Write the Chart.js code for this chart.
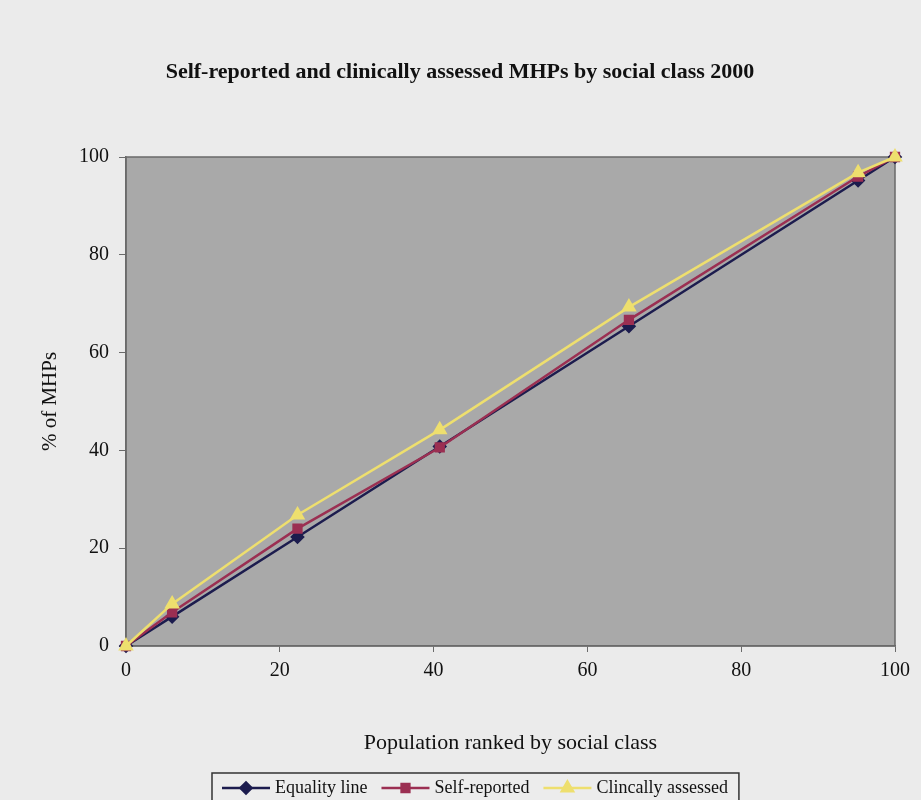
<!DOCTYPE html>
<html><head><meta charset="utf-8">
<script src="https://cdn.jsdelivr.net/npm/chart.js@4"></script>
<style>
html,body{margin:0;padding:0;background:#ebebeb;}
#wrap{position:relative;width:921px;height:800px;}
</style></head>
<body><div id="wrap"><canvas id="c" width="921" height="800"></canvas></div>
<script>
const chartTitle = "Self-reported and clinically assessed MHPs by social class 2000";
const xTitle = "Population ranked by social class";
const yTitle = "% of MHPs";
const seriesNames = ["Equality line", "Self-reported", "Clincally assessed"];
const populationX = [0, 6, 22.3, 40.8, 65.4, 95.2, 100];
const equalityY = [0, 6, 22.3, 40.8, 65.4, 95.2, 100];
const selfReportedY = [0, 6.9, 24.0, 40.6, 66.7, 96.0, 100];
const clinicalY = [0, 8.6, 26.8, 44.2, 69.3, 96.8, 100];

const colors = ["#1c1c4e", "#9b2f52", "#eedf6e"];
const markers = ["rectRot", "rect", "triangle"];
const radii = [5.5, 5.5, 6.5];

function pts(ys){ return populationX.map((x,i)=>({x:x,y:ys[i]})); }
const allY = [equalityY, selfReportedY, clinicalY];

const datasets = seriesNames.map((n,i)=>({
  label:n, data:pts(allY[i]), showLine:true, clip:false, order:2-i,
  borderColor:colors[i], backgroundColor:colors[i],
  pointStyle:markers[i], pointRadius:radii[i], pointHoverRadius:radii[i],
  borderWidth:2.5, tension:0
}));

const serif = "'Liberation Serif','Times New Roman',serif";

const bgPlugin = {
  id:'bg',
  beforeDraw(chart){
    const {ctx, chartArea:a} = chart;
    ctx.save();
    ctx.fillStyle = '#a9a9a9';
    ctx.fillRect(a.left, a.top, a.right-a.left, a.bottom-a.top);
    ctx.strokeStyle = '#6a6a6a';
    ctx.lineWidth = 1.5;
    ctx.strokeRect(a.left, a.top, a.right-a.left, a.bottom-a.top);
    ctx.restore();
  },
  afterDraw(chart){
    const ctx = chart.ctx;
    ctx.save();
    // title, centred on the canvas
    ctx.font = "bold 22px " + serif;
    ctx.fillStyle = '#111';
    ctx.textAlign = 'center';
    ctx.textBaseline = 'middle';
    ctx.fillText(chartTitle, 460, 72);
    // legend
    const top = 773, h = 40;
    ctx.font = "18px " + serif;
    const cy = 788;
    let x = 222;
    const items = [];
    seriesNames.forEach((n,i)=>{
      items.push({x:x, name:n, i:i});
      x += 48 + 5 + ctx.measureText(n).width + 14;
    });
    const left = 212, right = x - 3;
    ctx.fillStyle = '#ececec';
    ctx.fillRect(left, top, right-left, h);
    ctx.strokeStyle = '#333';
    ctx.lineWidth = 1.5;
    ctx.strokeRect(left, top, right-left, h);
    items.forEach(it=>{
      ctx.strokeStyle = colors[it.i];
      ctx.lineWidth = 2.5;
      ctx.beginPath(); ctx.moveTo(it.x, cy); ctx.lineTo(it.x+48, cy); ctx.stroke();
      ctx.fillStyle = colors[it.i];
      Chart.helpers.drawPoint(ctx, {pointStyle:markers[it.i], radius:radii[it.i], rotation:0, borderWidth:1}, it.x+24, cy);
      ctx.fillStyle = '#111';
      ctx.textAlign = 'left';
      ctx.fillText(it.name, it.x+53, cy);
    });
    ctx.restore();
  }
};

new Chart(document.getElementById('c'), {
  type:'scatter',
  data:{datasets:datasets},
  plugins:[bgPlugin],
  options:{
    responsive:false, animation:false,
    layout:{padding:{left:0,right:26,top:157,bottom:44}},
    plugins:{
      legend:{display:false},
      tooltip:{enabled:false},
      title:{display:false}
    },
    scales:{
      x:{type:'linear', min:0, max:100,
        afterFit(s){ s.height = 110; },
        border:{color:'#6a6a6a', width:1.5},
        grid:{drawOnChartArea:false, tickLength:6, color:'#6a6a6a'},
        ticks:{stepSize:20, color:'#111', padding:7, font:{family:serif, size:20}},
        title:{display:true, text:xTitle, color:'#111', font:{family:serif, size:22}, padding:{top:0,bottom:0}}
      },
      y:{type:'linear', min:0, max:100,
        afterFit(s){ s.width = 126; },
        border:{color:'#6a6a6a', width:1.5},
        grid:{drawOnChartArea:false, tickLength:7, color:'#6a6a6a'},
        ticks:{stepSize:20, color:'#111', padding:10, font:{family:serif, size:20}},
        title:{display:true, text:yTitle, color:'#111', font:{family:serif, size:21}, padding:{top:38,bottom:0}}
      }
    }
  }
});
</script></body></html>
